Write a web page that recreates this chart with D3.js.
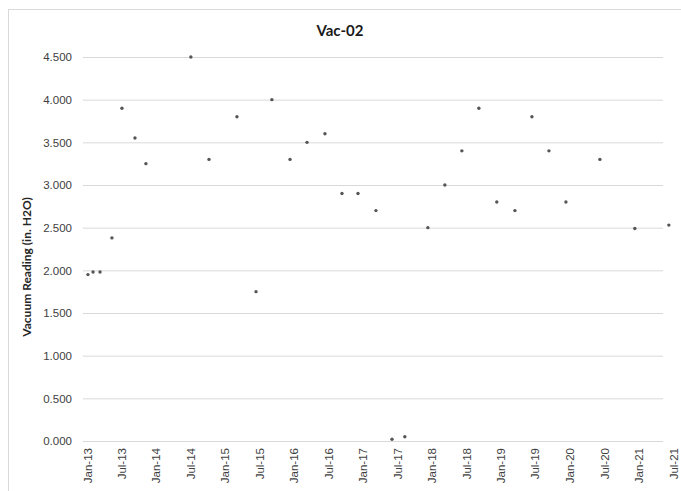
<!DOCTYPE html>
<html>
<head>
<meta charset="utf-8">
<script src="https://cdn.jsdelivr.net/npm/d3@7"></script>
<style>
  html, body { margin: 0; padding: 0; background: #fff; }
  svg { display: block; font-family: "Lato", "Open Sans", sans-serif; }
</style>
</head>
<body>
<svg id="chart" width="681" height="491"></svg>
<script>
// Sampling dates and vacuum readings (in. H2O) for well Vac-02
const readingDates = [
  "2013-01-06", "2013-02-02", "2013-03-11", "2013-05-13", "2013-07-05",
  "2013-09-12", "2013-11-09", "2014-07-05", "2014-10-09", "2015-03-06",
  "2015-06-15", "2015-09-07", "2015-12-12", "2016-03-11", "2016-06-14",
  "2016-09-12", "2016-12-06", "2017-03-11", "2017-06-04", "2017-08-11",
  "2017-12-11", "2018-03-11", "2018-06-09", "2018-09-07", "2018-12-11",
  "2019-03-17", "2019-06-15", "2019-09-13", "2019-12-12", "2020-06-09",
  "2020-12-11", "2021-06-09"
];
const readingValues = [
  1.95, 1.98, 1.98, 2.38, 3.90,
  3.55, 3.25, 4.50, 3.30, 3.80,
  1.75, 4.00, 3.30, 3.50, 3.60,
  2.90, 2.90, 2.70, 0.02, 0.05,
  2.50, 3.00, 3.40, 3.90, 2.80,
  2.70, 3.80, 3.40, 2.80, 3.30,
  2.49, 2.53
];
const yTickValues = [0, 0.5, 1, 1.5, 2, 2.5, 3, 3.5, 4, 4.5];
const xDomain = ["2013-01-01", "2021-07-01"];
const chartTitle = "Vac-02";
const yAxisTitle = "Vacuum Reading (in. H2O)";

const parse = d3.timeParse("%Y-%m-%d");
const points = readingDates.map((d, i) => ({ date: parse(d), value: readingValues[i] }));

const svg = d3.select("#chart");

// Outer chart frame
svg.append("rect")
  .attr("x", 8.5).attr("y", 9.5)
  .attr("width", 690).attr("height", 500)
  .attr("fill", "#fff")
  .attr("stroke", "#d9d9d9");

const plotLeft = 83, plotRight = 663;
const x = d3.scaleTime()
  .domain(xDomain.map(parse))
  .range([87, 673]);
const y = d3.scaleLinear()
  .domain([0, 4.5])
  .range([441, 57]);

// Value axis with horizontal gridlines
const yAxis = svg.append("g")
  .attr("transform", `translate(${plotLeft},0)`)
  .call(d3.axisLeft(y)
    .tickValues(yTickValues)
    .tickFormat(d3.format(".3f"))
    .tickSizeInner(-(plotRight - plotLeft))
    .tickSizeOuter(0)
    .tickPadding(11));
yAxis.select(".domain").remove();
yAxis.selectAll(".tick line").attr("stroke", "#d9d9d9").attr("stroke-width", 1);
yAxis.selectAll(".tick text")
  .attr("fill", "#404040")
  .style("font-size", "11.5px");

// Date axis: labels every six months, rotated
const xAxis = svg.append("g")
  .attr("transform", "translate(0,441)")
  .call(d3.axisBottom(x)
    .ticks(d3.timeMonth.every(6))
    .tickFormat(d3.timeFormat("%b-%y"))
    .tickSize(0)
    .tickPadding(0));
xAxis.select(".domain").remove();
xAxis.selectAll(".tick text")
  .attr("fill", "#404040")
  .style("font-size", "11.5px")
  .attr("text-anchor", "end")
  .attr("dy", null)
  .attr("y", 0)
  .attr("transform", "translate(4,7) rotate(-90)");

// Readings
svg.append("g")
  .selectAll("circle")
  .data(points)
  .join("circle")
  .attr("cx", d => x(d.date))
  .attr("cy", d => y(d.value))
  .attr("r", 1.7)
  .attr("fill", "#555");

// Titles
svg.append("text")
  .attr("x", 340).attr("y", 36)
  .attr("text-anchor", "middle")
  .attr("fill", "#1a1a1a")
  .style("font-size", "15px")
  .style("font-weight", "bold")
  .text(chartTitle);

svg.append("text")
  .attr("transform", "translate(31,267) rotate(-90)")
  .attr("text-anchor", "middle")
  .attr("fill", "#262626")
  .style("font-size", "12px")
  .style("font-weight", "bold")
  .text(yAxisTitle);
</script>
</body>
</html>
